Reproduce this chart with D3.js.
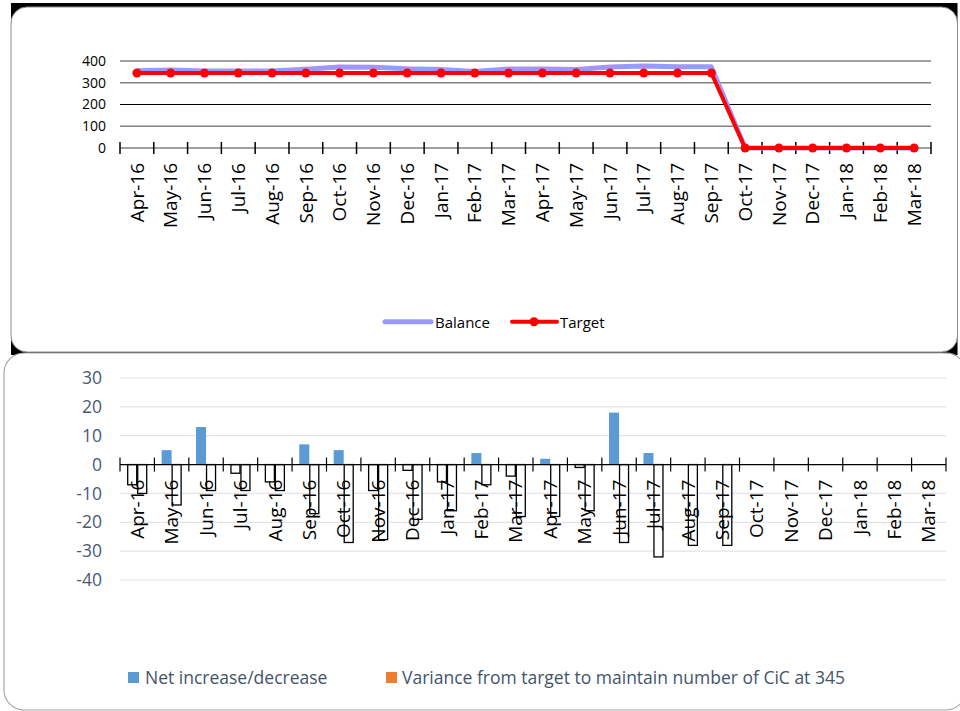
<!DOCTYPE html>
<html>
<head>
<meta charset="utf-8">
<script src="https://cdn.jsdelivr.net/npm/d3@7/dist/d3.min.js"></script>
<style>
  body { margin: 0; background: #fff; }
  svg { display: block; font-family: "Open Sans", sans-serif; }
</style>
</head>
<body>
<div class="canvas"></div>
<script>
// data
const months = ['Apr-16','May-16','Jun-16','Jul-16','Aug-16','Sep-16','Oct-16','Nov-16','Dec-16','Jan-17','Feb-17','Mar-17',
  'Apr-17','May-17','Jun-17','Jul-17','Aug-17','Sep-17','Oct-17','Nov-17','Dec-17','Jan-18','Feb-18','Mar-18'];
const balance = [355,359,354,354,354,362,372,371,364,361,352,363,363,361,372,377,373,373,0,0,0,0,0,0];
const target = [345,345,345,345,345,345,345,345,345,345,345,345,345,345,345,345,345,345,0,0,0,0,0,0];
const netChange = [-7,5,13,-3,-6,7,5,-9,-2,-6,4,-4,2,-1,18,4,0,0,null,null,null,null,null,null];
const variance = [-10,-14,-9,-9,-9,-17,-27,-26,-19,-16,-7,-18,-18,-16,-27,-32,-28,-28,null,null,null,null,null,null];
const topTicks = [0,100,200,300,400];
const bottomTicks = [-40,-30,-20,-10,0,10,20,30];

const svg = d3.select('.canvas')
  .append('svg')
  .attr('width', 960)
  .attr('height', 711);

// panel frames
svg.append('rect').attr('x', 11).attr('y', 3).attr('width', 946.5).attr('height', 352).attr('fill', '#000');
svg.append('rect').attr('x', 11).attr('y', 7).attr('width', 946.5).attr('height', 345).attr('rx', 16)
  .attr('fill', '#fff').attr('stroke', '#8c8c8c').attr('stroke-width', 1);
svg.append('rect').attr('x', 4).attr('y', 353).attr('width', 962).attr('height', 357).attr('rx', 20)
  .attr('fill', '#fff').attr('stroke', '#a6a6a6').attr('stroke-width', 1.2);

// ---------- top chart ----------
const x1 = d3.scaleBand().domain(months).range([120, 931]);
const y1 = d3.scaleLinear().domain([0, 400]).range([148, 61]);

const topChart = svg.append('g');

topChart.selectAll('line.grid')
  .data(topTicks.filter(d => d > 0))
  .enter().append('line')
    .attr('x1', 120).attr('x2', 931)
    .attr('y1', d => y1(d)).attr('y2', d => y1(d))
    .attr('stroke', d => d === 200 ? '#000' : '#808080')
    .attr('stroke-width', d => d === 200 ? 1.2 : 1.6);

topChart.append('line')
  .attr('x1', 120).attr('x2', 931)
  .attr('y1', y1(0)).attr('y2', y1(0))
  .attr('stroke', '#808080').attr('stroke-width', 1.6);

// ticks sit on band edges
topChart.selectAll('line.tick')
  .data(months.map(m => x1(m)).concat([x1.range()[1]]))
  .enter().append('line')
    .attr('x1', d => d).attr('x2', d => d)
    .attr('y1', y1(0) - 6).attr('y2', y1(0) + 6)
    .attr('stroke', '#000').attr('stroke-width', 1.5);

topChart.selectAll('text.ylab')
  .data(topTicks)
  .enter().append('text')
    .attr('x', 106).attr('y', d => y1(d))
    .attr('dy', '0.35em')
    .attr('text-anchor', 'end')
    .attr('font-size', 14)
    .attr('fill', '#000')
    .text(d => d);

topChart.selectAll('text.xlab')
  .data(months)
  .enter().append('text')
    .attr('transform', d => `translate(${x1(d) + x1.bandwidth() / 2}, ${y1(0) + 15}) rotate(-90)`)
    .attr('dy', '0.35em')
    .attr('text-anchor', 'end')
    .attr('font-size', 19)
    .attr('fill', '#000')
    .text(d => d);

const cx = (d, i) => x1(months[i]) + x1.bandwidth() / 2;

const valueLine = d3.line().x(cx).y(d => y1(d));
topChart.append('path')
  .attr('d', valueLine(balance))
  .attr('fill', 'none')
  .attr('stroke', '#9999ff')
  .attr('stroke-width', 5)
  .attr('stroke-linejoin', 'round');

topChart.append('path')
  .attr('d', valueLine(target))
  .attr('fill', 'none')
  .attr('stroke', '#ff0000')
  .attr('stroke-width', 4)
  .attr('stroke-linejoin', 'round');

topChart.selectAll('circle.target')
  .data(target)
  .enter().append('circle')
    .attr('cx', cx).attr('cy', d => y1(d))
    .attr('r', 4.5)
    .attr('fill', '#ff0000');

// legend top
const lg1 = svg.append('g');
lg1.append('line').attr('x1', 385).attr('x2', 431).attr('y1', 321.7).attr('y2', 321.7)
  .attr('stroke', '#9999ff').attr('stroke-width', 5).attr('stroke-linecap', 'round');
lg1.append('text').attr('x', 435).attr('y', 327.5).attr('font-size', 15).text('Balance');
lg1.append('line').attr('x1', 512).attr('x2', 557).attr('y1', 321.7).attr('y2', 321.7)
  .attr('stroke', '#ff0000').attr('stroke-width', 4).attr('stroke-linecap', 'round');
lg1.append('circle').attr('cx', 534).attr('cy', 321.7).attr('r', 4.5).attr('fill', '#ff0000');
lg1.append('text').attr('x', 560).attr('y', 327.5).attr('font-size', 15).text('Target');

// ---------- bottom chart ----------
const x2 = d3.scaleBand().domain(months).range([120, 946]);
const y2 = d3.scaleLinear().domain([-40, 30]).range([580, 378]);
const keys = ['net', 'var'];
const xSub = d3.scaleBand().domain(keys).range([0, x2.bandwidth()]).paddingOuter(0.72);

const bot = svg.append('g');

bot.selectAll('line.grid')
  .data(bottomTicks.filter(d => d !== 0))
  .enter().append('line')
    .attr('x1', 120).attr('x2', 946)
    .attr('y1', d => y2(d)).attr('y2', d => y2(d))
    .attr('stroke', '#e3e3e8').attr('stroke-width', 1.2);

bot.selectAll('text.ylab')
  .data(bottomTicks)
  .enter().append('text')
    .attr('x', 102).attr('y', d => y2(d))
    .attr('dy', '0.35em')
    .attr('text-anchor', 'end')
    .attr('font-size', 17.5)
    .attr('fill', '#4a5a75')
    .text(d => d);

const rows = months.map((m, i) => ({ month: m, net: netChange[i], var: variance[i] }));

const groups = bot.selectAll('g.grp')
  .data(rows)
  .enter().append('g')
    .attr('transform', d => `translate(${x2(d.month)}, 0)`);

groups.selectAll('rect')
  .data(d => keys.map(k => ({ key: k, value: d[k] })).filter(v => v.value))
  .enter().append('rect')
    .attr('x', d => xSub(d.key) + (d.value < 0 ? 0.5 : 0))
    .attr('width', d => xSub.bandwidth() - (d.value < 0 ? 1 : 0))
    .attr('y', d => y2(Math.max(0, d.value)))
    .attr('height', d => Math.abs(y2(d.value) - y2(0)))
    // invert if negative: white fill, black outline
    .attr('fill', d => d.value < 0 ? '#fff' : (d.key === 'net' ? '#5b9bd5' : '#ed7d31'))
    .attr('stroke', d => d.value < 0 ? '#000' : 'none')
    .attr('stroke-width', 1.3);

bot.append('line')
  .attr('x1', 120).attr('x2', 946)
  .attr('y1', y2(0)).attr('y2', y2(0))
  .attr('stroke', '#000').attr('stroke-width', 1.2);

bot.selectAll('line.tick')
  .data(months.map(m => x2(m)).concat([x2.range()[1]]))
  .enter().append('line')
    .attr('x1', d => d).attr('x2', d => d)
    .attr('y1', y2(0) - 7).attr('y2', y2(0) + 7)
    .attr('stroke', '#000').attr('stroke-width', 1.2);

bot.selectAll('text.xlab')
  .data(months)
  .enter().append('text')
    .attr('transform', d => `translate(${x2(d) + x2.bandwidth() / 2}, ${y2(0) + 15}) rotate(-90)`)
    .attr('dy', '0.35em')
    .attr('text-anchor', 'end')
    .attr('font-size', 19)
    .attr('fill', '#000')
    .text(d => d);

// legend bottom
const lg2 = svg.append('g').attr('font-size', 17.5).attr('fill', '#44546a');
lg2.append('rect').attr('x', 128).attr('y', 672).attr('width', 11).attr('height', 11).attr('fill', '#5b9bd5');
lg2.append('text').attr('x', 145).attr('y', 684)
  .text('Net increase/decrease');
lg2.append('rect').attr('x', 386).attr('y', 672).attr('width', 11).attr('height', 11).attr('fill', '#ed7d31');
lg2.append('text').attr('x', 402).attr('y', 684)
  .text('Variance from target to maintain number of CiC at 345');
</script>
</body>
</html>
